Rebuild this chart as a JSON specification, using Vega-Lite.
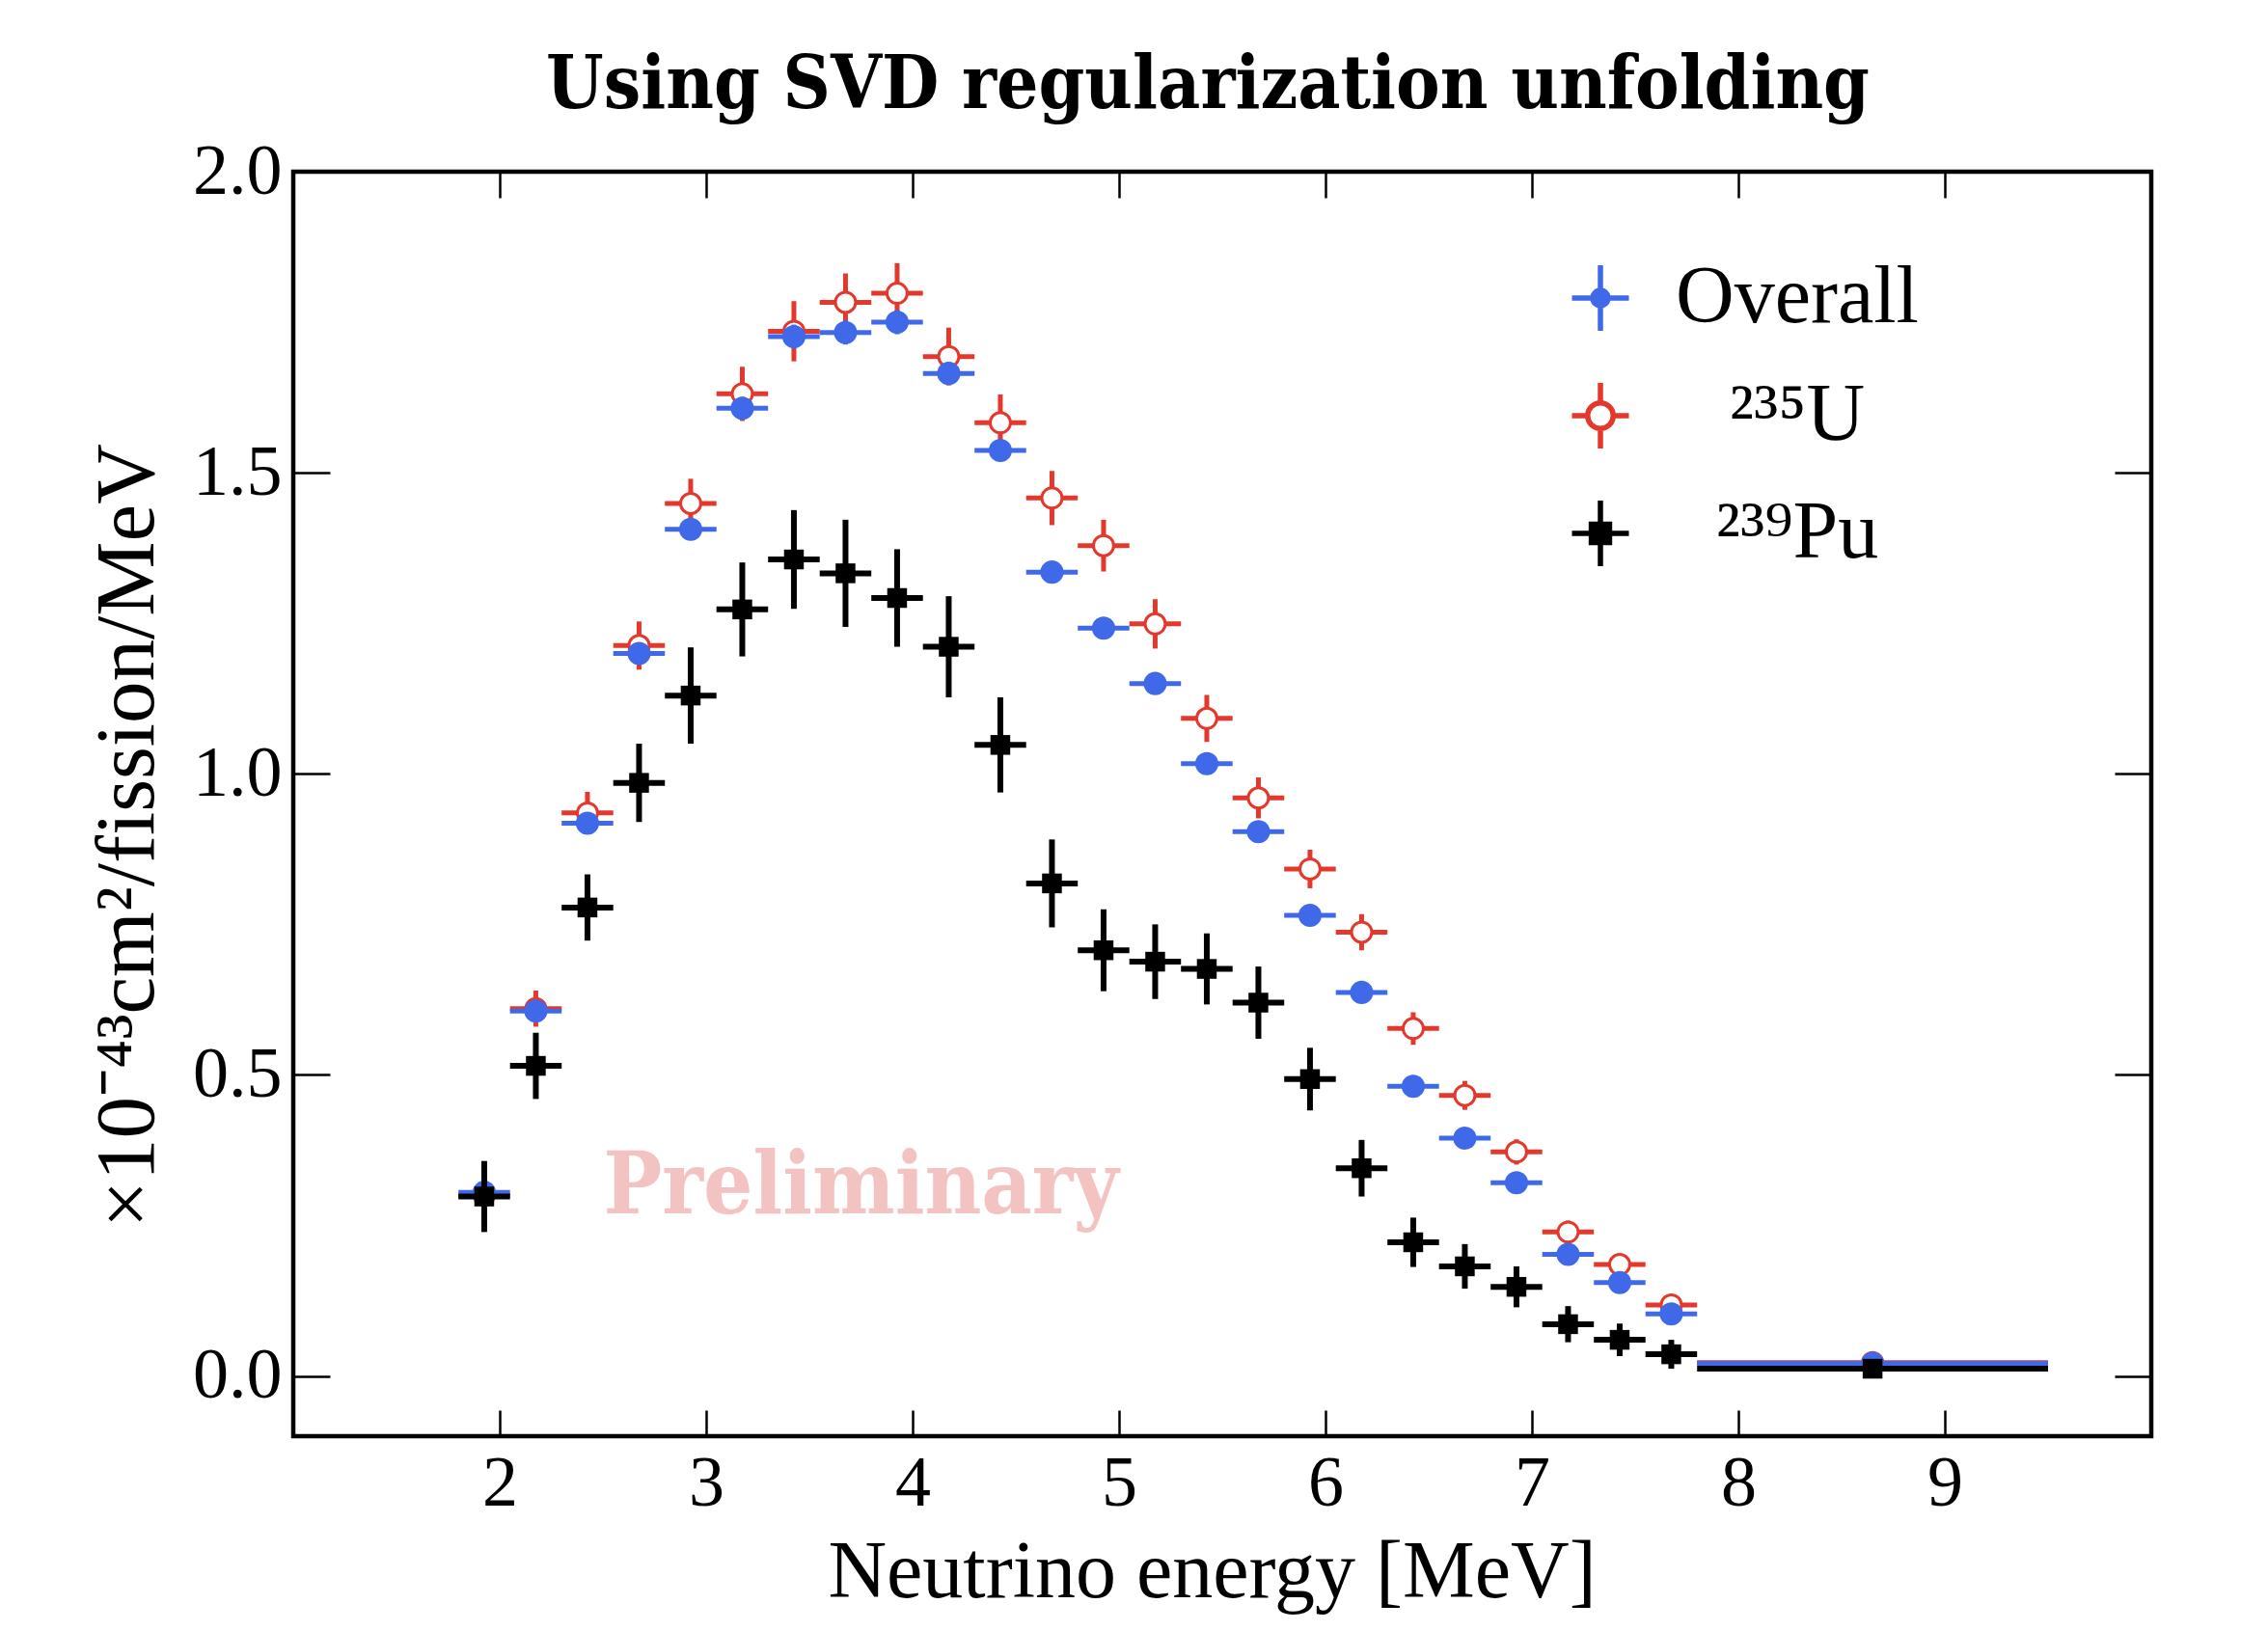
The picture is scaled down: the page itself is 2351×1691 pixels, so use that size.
{
  "$schema": "https://vega.github.io/schema/vega-lite/v6.json",
  "width": 1926,
  "height": 1311,
  "autosize": {"type": "none"},
  "padding": {"left": 304, "top": 178, "right": 121, "bottom": 202},
  "background": "white",
  "title": {
    "text": "Using SVD regularization unfolding",
    "font": "DejaVu Serif Condensed, DejaVu Serif",
    "fontSize": 76,
    "fontWeight": "bold",
    "color": "black",
    "anchor": "middle",
    "baseline": "alphabetic",
    "offset": 58,
    "dy": 105,
    "dx": -15
  },
  "config": {
    "view": {"stroke": "black", "strokeWidth": 4.5},
    "axis": {"grid": false, "domain": false, "labelOverlap": false, "labelFlush": false}
  },
  "datasets": {
    "u235": [
      {"E": 1.925, "Elo": 1.8, "Ehi": 2.05, "v": 0.300, "lo": 0.280, "hi": 0.320},
      {"E": 2.175, "Elo": 2.05, "Ehi": 2.3, "v": 0.610, "lo": 0.580, "hi": 0.640},
      {"E": 2.425, "Elo": 2.3, "Ehi": 2.55, "v": 0.935, "lo": 0.900, "hi": 0.970},
      {"E": 2.675, "Elo": 2.55, "Ehi": 2.8, "v": 1.213, "lo": 1.173, "hi": 1.253},
      {"E": 2.925, "Elo": 2.8, "Ehi": 3.05, "v": 1.449, "lo": 1.408, "hi": 1.490},
      {"E": 3.175, "Elo": 3.05, "Ehi": 3.3, "v": 1.631, "lo": 1.586, "hi": 1.676},
      {"E": 3.425, "Elo": 3.3, "Ehi": 3.55, "v": 1.735, "lo": 1.685, "hi": 1.785},
      {"E": 3.675, "Elo": 3.55, "Ehi": 3.8, "v": 1.783, "lo": 1.735, "hi": 1.831},
      {"E": 3.925, "Elo": 3.8, "Ehi": 4.05, "v": 1.798, "lo": 1.748, "hi": 1.848},
      {"E": 4.175, "Elo": 4.05, "Ehi": 4.3, "v": 1.693, "lo": 1.645, "hi": 1.741},
      {"E": 4.425, "Elo": 4.3, "Ehi": 4.55, "v": 1.583, "lo": 1.536, "hi": 1.630},
      {"E": 4.675, "Elo": 4.55, "Ehi": 4.8, "v": 1.458, "lo": 1.413, "hi": 1.503},
      {"E": 4.925, "Elo": 4.8, "Ehi": 5.05, "v": 1.379, "lo": 1.336, "hi": 1.422},
      {"E": 5.175, "Elo": 5.05, "Ehi": 5.3, "v": 1.249, "lo": 1.208, "hi": 1.290},
      {"E": 5.425, "Elo": 5.3, "Ehi": 5.55, "v": 1.092, "lo": 1.053, "hi": 1.131},
      {"E": 5.675, "Elo": 5.55, "Ehi": 5.8, "v": 0.960, "lo": 0.926, "hi": 0.994},
      {"E": 5.925, "Elo": 5.8, "Ehi": 6.05, "v": 0.842, "lo": 0.810, "hi": 0.874},
      {"E": 6.175, "Elo": 6.05, "Ehi": 6.3, "v": 0.737, "lo": 0.707, "hi": 0.767},
      {"E": 6.425, "Elo": 6.3, "Ehi": 6.55, "v": 0.577, "lo": 0.550, "hi": 0.604},
      {"E": 6.675, "Elo": 6.55, "Ehi": 6.8, "v": 0.466, "lo": 0.442, "hi": 0.490},
      {"E": 6.925, "Elo": 6.8, "Ehi": 7.05, "v": 0.372, "lo": 0.351, "hi": 0.393},
      {"E": 7.175, "Elo": 7.05, "Ehi": 7.3, "v": 0.239, "lo": 0.220, "hi": 0.258},
      {"E": 7.425, "Elo": 7.3, "Ehi": 7.55, "v": 0.185, "lo": 0.167, "hi": 0.203},
      {"E": 7.675, "Elo": 7.55, "Ehi": 7.8, "v": 0.118, "lo": 0.102, "hi": 0.134},
      {"E": 8.65, "Elo": 7.8, "Ehi": 9.5, "v": 0.022, "lo": 0.018, "hi": 0.026}
    ],
    "overall": [
      {"E": 1.925, "Elo": 1.8, "Ehi": 2.05, "v": 0.305, "lo": 0.293, "hi": 0.317},
      {"E": 2.175, "Elo": 2.05, "Ehi": 2.3, "v": 0.606, "lo": 0.592, "hi": 0.620},
      {"E": 2.425, "Elo": 2.3, "Ehi": 2.55, "v": 0.918, "lo": 0.902, "hi": 0.934},
      {"E": 2.675, "Elo": 2.55, "Ehi": 2.8, "v": 1.200, "lo": 1.182, "hi": 1.218},
      {"E": 2.925, "Elo": 2.8, "Ehi": 3.05, "v": 1.406, "lo": 1.388, "hi": 1.424},
      {"E": 3.175, "Elo": 3.05, "Ehi": 3.3, "v": 1.607, "lo": 1.588, "hi": 1.626},
      {"E": 3.425, "Elo": 3.3, "Ehi": 3.55, "v": 1.726, "lo": 1.706, "hi": 1.746},
      {"E": 3.675, "Elo": 3.55, "Ehi": 3.8, "v": 1.733, "lo": 1.713, "hi": 1.753},
      {"E": 3.925, "Elo": 3.8, "Ehi": 4.05, "v": 1.750, "lo": 1.730, "hi": 1.770},
      {"E": 4.175, "Elo": 4.05, "Ehi": 4.3, "v": 1.665, "lo": 1.646, "hi": 1.684},
      {"E": 4.425, "Elo": 4.3, "Ehi": 4.55, "v": 1.537, "lo": 1.519, "hi": 1.555},
      {"E": 4.675, "Elo": 4.55, "Ehi": 4.8, "v": 1.335, "lo": 1.318, "hi": 1.352},
      {"E": 4.925, "Elo": 4.8, "Ehi": 5.05, "v": 1.242, "lo": 1.226, "hi": 1.258},
      {"E": 5.175, "Elo": 5.05, "Ehi": 5.3, "v": 1.150, "lo": 1.135, "hi": 1.165},
      {"E": 5.425, "Elo": 5.3, "Ehi": 5.55, "v": 1.017, "lo": 1.003, "hi": 1.031},
      {"E": 5.675, "Elo": 5.55, "Ehi": 5.8, "v": 0.904, "lo": 0.891, "hi": 0.917},
      {"E": 5.925, "Elo": 5.8, "Ehi": 6.05, "v": 0.765, "lo": 0.753, "hi": 0.777},
      {"E": 6.175, "Elo": 6.05, "Ehi": 6.3, "v": 0.637, "lo": 0.626, "hi": 0.648},
      {"E": 6.425, "Elo": 6.3, "Ehi": 6.55, "v": 0.481, "lo": 0.471, "hi": 0.491},
      {"E": 6.675, "Elo": 6.55, "Ehi": 6.8, "v": 0.395, "lo": 0.386, "hi": 0.404},
      {"E": 6.925, "Elo": 6.8, "Ehi": 7.05, "v": 0.321, "lo": 0.313, "hi": 0.329},
      {"E": 7.175, "Elo": 7.05, "Ehi": 7.3, "v": 0.202, "lo": 0.195, "hi": 0.209},
      {"E": 7.425, "Elo": 7.3, "Ehi": 7.55, "v": 0.155, "lo": 0.149, "hi": 0.161},
      {"E": 7.675, "Elo": 7.55, "Ehi": 7.8, "v": 0.103, "lo": 0.098, "hi": 0.108},
      {"E": 8.65, "Elo": 7.8, "Ehi": 9.5, "v": 0.021, "lo": 0.019, "hi": 0.023}
    ],
    "pu239": [
      {"E": 1.925, "Elo": 1.8, "Ehi": 2.05, "v": 0.298, "lo": 0.239, "hi": 0.357},
      {"E": 2.175, "Elo": 2.05, "Ehi": 2.3, "v": 0.515, "lo": 0.460, "hi": 0.570},
      {"E": 2.425, "Elo": 2.3, "Ehi": 2.55, "v": 0.778, "lo": 0.723, "hi": 0.833},
      {"E": 2.675, "Elo": 2.55, "Ehi": 2.8, "v": 0.985, "lo": 0.920, "hi": 1.050},
      {"E": 2.925, "Elo": 2.8, "Ehi": 3.05, "v": 1.130, "lo": 1.050, "hi": 1.210},
      {"E": 3.175, "Elo": 3.05, "Ehi": 3.3, "v": 1.273, "lo": 1.195, "hi": 1.351},
      {"E": 3.425, "Elo": 3.3, "Ehi": 3.55, "v": 1.356, "lo": 1.274, "hi": 1.438},
      {"E": 3.675, "Elo": 3.55, "Ehi": 3.8, "v": 1.333, "lo": 1.244, "hi": 1.422},
      {"E": 3.925, "Elo": 3.8, "Ehi": 4.05, "v": 1.292, "lo": 1.211, "hi": 1.373},
      {"E": 4.175, "Elo": 4.05, "Ehi": 4.3, "v": 1.211, "lo": 1.127, "hi": 1.295},
      {"E": 4.425, "Elo": 4.3, "Ehi": 4.55, "v": 1.048, "lo": 0.969, "hi": 1.127},
      {"E": 4.675, "Elo": 4.55, "Ehi": 4.8, "v": 0.818, "lo": 0.745, "hi": 0.891},
      {"E": 4.925, "Elo": 4.8, "Ehi": 5.05, "v": 0.707, "lo": 0.639, "hi": 0.775},
      {"E": 5.175, "Elo": 5.05, "Ehi": 5.3, "v": 0.688, "lo": 0.626, "hi": 0.750},
      {"E": 5.425, "Elo": 5.3, "Ehi": 5.55, "v": 0.676, "lo": 0.617, "hi": 0.735},
      {"E": 5.675, "Elo": 5.55, "Ehi": 5.8, "v": 0.620, "lo": 0.560, "hi": 0.680},
      {"E": 5.925, "Elo": 5.8, "Ehi": 6.05, "v": 0.493, "lo": 0.441, "hi": 0.545},
      {"E": 6.175, "Elo": 6.05, "Ehi": 6.3, "v": 0.345, "lo": 0.298, "hi": 0.392},
      {"E": 6.425, "Elo": 6.3, "Ehi": 6.55, "v": 0.222, "lo": 0.181, "hi": 0.263},
      {"E": 6.675, "Elo": 6.55, "Ehi": 6.8, "v": 0.182, "lo": 0.145, "hi": 0.219},
      {"E": 6.925, "Elo": 6.8, "Ehi": 7.05, "v": 0.148, "lo": 0.114, "hi": 0.182},
      {"E": 7.175, "Elo": 7.05, "Ehi": 7.3, "v": 0.086, "lo": 0.056, "hi": 0.116},
      {"E": 7.425, "Elo": 7.3, "Ehi": 7.55, "v": 0.060, "lo": 0.033, "hi": 0.087},
      {"E": 7.675, "Elo": 7.55, "Ehi": 7.8, "v": 0.036, "lo": 0.012, "hi": 0.060},
      {"E": 8.65, "Elo": 7.8, "Ehi": 9.5, "v": 0.012, "lo": 0.008, "hi": 0.016}
    ],
    "legendRows": [
      {"series": "Overall"},
      {"series": "²³⁵U"},
      {"series": "²³⁹Pu"}
    ]
  },
  "layer": [
    {
      "data": {"values": [{"label": "Preliminary"}]},
      "mark": {"type": "text", "font": "DejaVu Serif Condensed, DejaVu Serif", "fontSize": 90, "fontWeight": "bold", "color": "#f3c3c1", "align": "center", "baseline": "alphabetic"},
      "encoding": {
        "x": {"datum": 3.75, "type": "quantitative", "scale": {"domain": [1, 10], "nice": false, "zero": false}, "axis": null},
        "y": {"datum": 0.27, "type": "quantitative", "scale": {"domain": [-0.1, 2.0], "nice": false, "zero": false}, "axis": null},
        "text": {"field": "label"}
      }
    },
    {
      "data": {"name": "u235"},
      "mark": {"type": "rule", "color": "#e4382c", "strokeWidth": 5},
      "encoding": {
        "x": {"field": "E", "type": "quantitative", "scale": {"domain": [1, 10], "nice": false, "zero": false},
          "axis": {"orient": "bottom", "values": [2, 3, 4, 5, 6, 7, 8, 9], "format": "d", "ticks": true, "tickSize": -27, "tickWidth": 2.5, "tickColor": "black",
            "labelFont": "Liberation Serif", "labelFontSize": 74, "labelColor": "black", "labelPadding": 40,
            "title": "Neutrino energy [MeV]", "titleFont": "Liberation Serif", "titleFontSize": 84, "titleFontWeight": "normal", "titleColor": "black",
            "titleX": 952, "titleY": 166, "titleAlign": "center", "titleBaseline": "alphabetic"}},
        "y": {"field": "lo", "type": "quantitative", "scale": {"domain": [-0.1, 2.0], "nice": false, "zero": false},
          "axis": {"orient": "left", "values": [0, 0.5, 1, 1.5, 2], "format": ".1f", "ticks": true, "tickSize": -38, "tickWidth": 2.5, "tickColor": "black",
            "labelFont": "Liberation Serif", "labelFontSize": 74, "labelColor": "black", "labelPadding": 50,
            "title": "×10⁻⁴³cm²/fission/MeV", "titleFont": "Liberation Serif", "titleFontSize": 87, "titleFontWeight": "normal", "titleColor": "black",
            "titleX": -146, "titleY": 688, "titleAngle": 270, "titleAlign": "center", "titleBaseline": "alphabetic"}},
        "y2": {"field": "hi"}
      }
    },
    {
      "data": {"name": "u235"},
      "mark": {"type": "rule", "color": "#e4382c", "strokeWidth": 5},
      "encoding": {
        "x": {"field": "Elo", "type": "quantitative", "scale": {"domain": [1, 10], "nice": false, "zero": false},
          "axis": {"orient": "top", "values": [2, 3, 4, 5, 6, 7, 8, 9], "labels": false, "ticks": true, "tickSize": -27, "tickWidth": 2.5, "tickColor": "black", "title": null}},
        "x2": {"field": "Ehi"},
        "y": {"field": "v", "type": "quantitative", "scale": {"domain": [-0.1, 2.0], "nice": false, "zero": false},
          "axis": {"orient": "right", "values": [0, 0.5, 1, 1.5, 2], "labels": false, "ticks": true, "tickSize": -38, "tickWidth": 2.5, "tickColor": "black", "title": null}}
      }
    },
    {
      "data": {"name": "u235"},
      "mark": {"type": "point", "shape": "circle", "filled": false, "fill": "white", "stroke": "#e4382c", "strokeWidth": 3, "size": 440, "opacity": 1},
      "encoding": {
        "x": {"field": "E", "type": "quantitative", "axis": null},
        "y": {"field": "v", "type": "quantitative", "axis": null}
      }
    },
    {
      "data": {"name": "overall"},
      "mark": {"type": "rule", "color": "#3f69e8", "strokeWidth": 5},
      "encoding": {
        "x": {"field": "E", "type": "quantitative", "axis": null},
        "y": {"field": "lo", "type": "quantitative", "axis": null},
        "y2": {"field": "hi"}
      }
    },
    {
      "data": {"name": "overall"},
      "mark": {"type": "rule", "color": "#3f69e8", "strokeWidth": 5},
      "encoding": {
        "x": {"field": "Elo", "type": "quantitative", "axis": null},
        "x2": {"field": "Ehi"},
        "y": {"field": "v", "type": "quantitative", "axis": null}
      }
    },
    {
      "data": {"name": "overall"},
      "mark": {"type": "point", "shape": "circle", "filled": true, "color": "#3f69e8", "size": 580, "opacity": 1},
      "encoding": {
        "x": {"field": "E", "type": "quantitative", "axis": null},
        "y": {"field": "v", "type": "quantitative", "axis": null}
      }
    },
    {
      "data": {"name": "pu239"},
      "mark": {"type": "rule", "color": "black", "strokeWidth": 6},
      "encoding": {
        "x": {"field": "E", "type": "quantitative", "axis": null},
        "y": {"field": "lo", "type": "quantitative", "axis": null},
        "y2": {"field": "hi"}
      }
    },
    {
      "data": {"name": "pu239"},
      "mark": {"type": "rule", "color": "black", "strokeWidth": 6},
      "encoding": {
        "x": {"field": "Elo", "type": "quantitative", "axis": null},
        "x2": {"field": "Ehi"},
        "y": {"field": "v", "type": "quantitative", "axis": null}
      }
    },
    {
      "data": {"name": "pu239"},
      "mark": {"type": "point", "shape": "square", "filled": true, "color": "black", "size": 420, "opacity": 1},
      "encoding": {
        "x": {"field": "E", "type": "quantitative", "axis": null},
        "y": {"field": "v", "type": "quantitative", "axis": null}
      }
    },
    {
      "data": {"name": "legendRows"},
      "mark": {"type": "point", "filled": true, "opacity": 0},
      "encoding": {
        "fill": {"field": "series", "type": "nominal",
          "scale": {"domain": ["Overall", "²³⁵U", "²³⁹Pu"], "range": ["#3f69e8", "white", "black"]},
          "legend": {"orient": "none", "legendX": 1313, "legendY": 89, "title": null, "padding": 0, "rowPadding": 32,
            "labelFont": "Liberation Serif", "labelFontSize": 84, "labelColor": "black", "labelAlign": "center", "labelOffset": 162, "labelLimit": 0,
            "symbolSize": 3481, "symbolStrokeWidth": 5.5, "symbolOpacity": 1}},
        "stroke": {"field": "series", "type": "nominal",
          "scale": {"domain": ["Overall", "²³⁵U", "²³⁹Pu"], "range": ["#3f69e8", "#e4382c", "black"]},
          "legend": {"orient": "none", "legendX": 1313, "legendY": 89, "title": null, "padding": 0, "rowPadding": 32,
            "labelFont": "Liberation Serif", "labelFontSize": 84, "labelColor": "black", "labelAlign": "center", "labelOffset": 162, "labelLimit": 0,
            "symbolSize": 3481, "symbolStrokeWidth": 5.5, "symbolOpacity": 1}},
        "shape": {"field": "series", "type": "nominal",
          "scale": {"domain": ["Overall", "²³⁵U", "²³⁹Pu"], "range": [
            "M-1,0H1M0,-1.15V1.15M0.27,0A0.27,0.27,0,1,1,-0.27,0A0.27,0.27,0,1,1,0.27,0Z",
            "M-1,0H-0.45M0.45,0H1M0,-1.15V-0.45M0,0.45V1.15M0.45,0A0.45,0.45,0,1,1,-0.45,0A0.45,0.45,0,1,1,0.45,0Z",
            "M-1,0H1M0,-1.15V1.15M-0.32,-0.32H0.32V0.32H-0.32Z"]},
          "legend": {"orient": "none", "legendX": 1313, "legendY": 89, "title": null, "padding": 0, "rowPadding": 32,
            "labelFont": "Liberation Serif", "labelFontSize": 84, "labelColor": "black", "labelAlign": "center", "labelOffset": 162, "labelLimit": 0,
            "symbolSize": 3481, "symbolStrokeWidth": 5.5, "symbolOpacity": 1}}
      }
    }
  ],
  "resolve": {"axis": {"x": "independent", "y": "independent"}}
}
